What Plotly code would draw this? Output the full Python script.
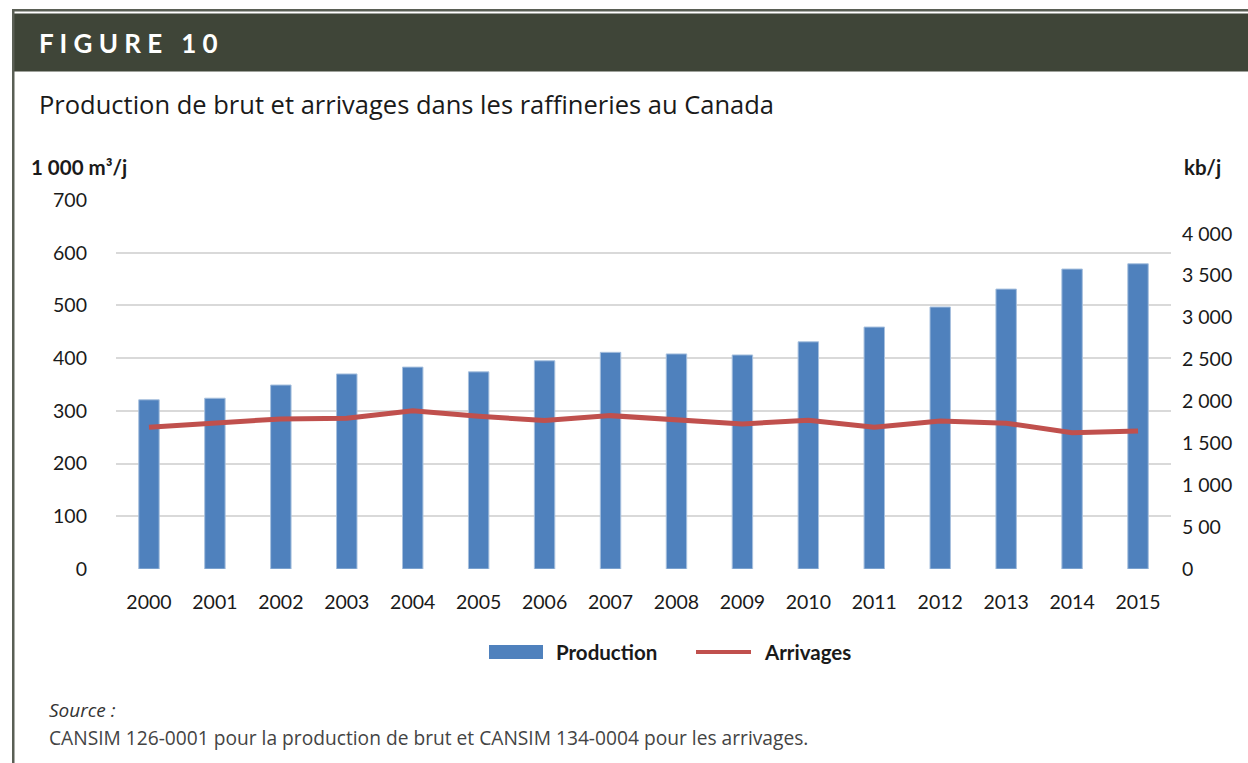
import plotly.graph_objects as go

years = ["2000", "2001", "2002", "2003", "2004", "2005", "2006", "2007",
         "2008", "2009", "2010", "2011", "2012", "2013", "2014", "2015"]
production = [321, 324, 349, 370, 383, 374, 395, 411, 408, 406, 431, 459, 497, 531, 569, 579]
arrivages = [1692, 1747, 1791, 1799, 1887, 1823, 1771, 1830, 1775, 1731, 1775, 1692, 1767, 1740, 1627, 1648]

left_ticks = [0, 100, 200, 300, 400, 500, 600, 700]
right_ticks = [0, 500, 1000, 1500, 2000, 2500, 3000, 3500, 4000]
right_ticktext = ["0", "5 00", "1 000", "1 500", "2 000", "2 500",
                  "3 000", "3 500", "4 000"]

FONT = "Lato"
BAR_COLOR = "#4F81BD"
LINE_COLOR = "#C0504D"
TXT = "#1a1a1a"

OFF = 0  # body margin removed via post_script
PL, PR, PT, PB = 116, 1171, 200, 569  # plot area in page pixels
W, H = 1248, 763
ml = PL - OFF
mt = PT - OFF
mr = W - (PR - OFF)
mb = H - (PB - OFF)
W_PLOT = W - ml - mr
H_PLOT = H - mt - mb


def px(x):
    return (x - OFF - ml) / W_PLOT


def py(y):
    return (H - mb - (y - OFF)) / H_PLOT


fig = go.Figure()
fig.add_trace(go.Bar(x=years, y=production, name="Production",
                     marker=dict(color=BAR_COLOR, line=dict(color="#A7C0DE", width=1)),
                     yaxis="y", showlegend=False))
fig.add_trace(go.Scatter(x=years, y=arrivages, name="Arrivages", mode="lines",
                         line=dict(color=LINE_COLOR, width=5), yaxis="y2", showlegend=False))

fig.update_layout(
    width=W, height=H,
    margin=dict(l=ml, r=mr, t=mt, b=mb),
    paper_bgcolor="white", plot_bgcolor="white",
    bargap=0.69,
    font=dict(family=FONT, size=19.5, color=TXT),
    xaxis=dict(type="category", showgrid=False, showline=False, ticks="",
               tickfont=dict(size=19.5, color=TXT), ticklabelstandoff=19),
    yaxis=dict(range=[0, 700], tickvals=left_ticks, showgrid=True, gridcolor="#D9D9D9",
               gridwidth=2, zeroline=False, showline=False, ticks="",
               tickfont=dict(size=19.5, color=TXT), ticklabelstandoff=28),
    yaxis2=dict(range=[0, 700 * 6.2898], overlaying="y", side="right", tickvals=right_ticks,
                ticktext=right_ticktext, showgrid=False, zeroline=False, showline=False,
                ticks="", tickfont=dict(size=19.5, color=TXT), ticklabelstandoff=10),
)

shapes = [
    dict(type="rect", xref="paper", yref="paper", x0=px(12), x1=px(1260), y0=py(11.5), y1=py(9),
         line=dict(width=0), fillcolor="#5A5F55", layer="below"),
    dict(type="rect", xref="paper", yref="paper", x0=px(14), x1=px(1260), y0=py(71.5), y1=py(13.5),
         line=dict(width=0), fillcolor="#3F4538", layer="below"),
    dict(type="rect", xref="paper", yref="paper", x0=px(12), x1=px(14.5), y0=py(780), y1=py(9),
         line=dict(width=0), fillcolor="#5A5F55", layer="below"),
    # legend swatches
    dict(type="rect", xref="paper", yref="paper", x0=px(489), x1=px(543), y0=py(659), y1=py(645),
         line=dict(width=0), fillcolor=BAR_COLOR),
    dict(type="line", xref="paper", yref="paper", x0=px(696), x1=px(751), y0=py(652), y1=py(652),
         line=dict(color=LINE_COLOR, width=4)),
]

annotations = [
    dict(text="<b>F I G U R E   1 0</b>", x=px(37), y=py(43), xref="paper", yref="paper",
         xanchor="left", yanchor="middle", showarrow=False,
         font=dict(family=FONT, size=26, color="white")),
    dict(text="Production de brut et arrivages dans les raffineries au Canada", x=px(37), y=py(104),
         xref="paper", yref="paper", xanchor="left", yanchor="middle", showarrow=False,
         font=dict(family="Open Sans", size=25.5, color=TXT)),
    dict(text="<b>1 000 m³/j</b>", x=px(29), y=py(167), xref="paper", yref="paper",
         xanchor="left", yanchor="middle", showarrow=False, font=dict(family=FONT, size=20.5, color=TXT)),
    dict(text="<b>kb/j</b>", x=px(1182), y=py(167), xref="paper", yref="paper",
         xanchor="left", yanchor="middle", showarrow=False, font=dict(family=FONT, size=20.5, color=TXT)),
    dict(text="<b>Production</b>", x=px(554), y=py(652), xref="paper", yref="paper",
         xanchor="left", yanchor="middle", showarrow=False, font=dict(family=FONT, size=20.5, color=TXT)),
    dict(text="<b>Arrivages</b>", x=px(762), y=py(652), xref="paper", yref="paper",
         xanchor="left", yanchor="middle", showarrow=False, font=dict(family=FONT, size=20.5, color=TXT)),
    dict(text="<i>Source :</i>", x=px(47), y=py(710), xref="paper", yref="paper",
         xanchor="left", yanchor="middle", showarrow=False, font=dict(family="Open Sans", size=19, color="#333")),
    dict(text="CANSIM 126-0001 pour la production de brut et CANSIM 134-0004 pour les arrivages.",
         x=px(47), y=py(737), xref="paper", yref="paper", xanchor="left", yanchor="middle",
         showarrow=False, font=dict(family="Open Sans", size=19.2, color="#444")),
]

fig.update_layout(shapes=shapes, annotations=annotations)
fig.write_html(
    "out.html",
    config={"displayModeBar": False},
    post_script="document.body.style.margin='0';document.body.style.overflow='hidden';",
)
